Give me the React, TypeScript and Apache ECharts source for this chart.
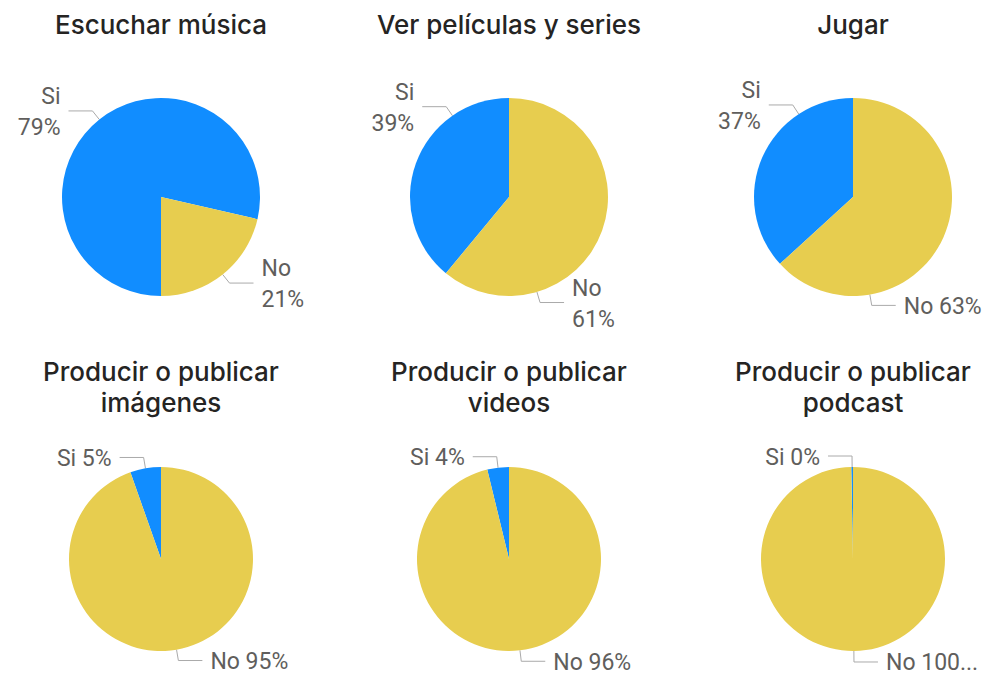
import React, { useEffect, useRef } from 'react';
import * as echarts from 'echarts';

// ---- data ----
const categories = ['Si', 'No'];
const chartTitles = [
  'Escuchar música',
  'Ver películas y series',
  'Jugar',
  'Producir o publicar\nimágenes',
  'Producir o publicar\nvideos',
  'Producir o publicar\npodcast',
];
const siValues = [78.6, 39.0, 36.8, 5.4, 3.8, 0.3];
const noValues = [21.4, 61.0, 63.2, 94.6, 96.2, 99.7];

// ---- layout / style ----
const COLORS = ['#118DFF', '#E7CD4F'];
const FONT = 'Roboto, "Noto Sans", sans-serif';
const TITLE_FONT = 'Inter, Roboto, sans-serif';
const CENTERS = [
  [161, 197], [509, 197], [853, 197],
  [161, 559], [509, 559], [853, 559],
];
const RADII = [99, 99, 99, 92, 92, 92];
const START_ANGLES = [-90, 90, 90, 90, 90, 90];
const CLOCKWISE = [true, false, false, false, false, false];
// label anchor angles (degrees clockwise from 12 o'clock) where the layout pushes labels; null = slice middle
const LABEL_ANGLE_OVERRIDE: (number[] | null)[] = [null, [325.2, 163.6], [326.8, 170.2], null, null, null];
const WRAP = [[true, true], [true, true], [true, false], [false, false], [false, false], [false, false]];
const TRUNCATE: (number | null)[] = [null, null, null, null, null, 6];
const TITLE_Y = [24, 24, 24, 387, 387, 387];
const L1 = 11;
const L2 = 24;
const GAP = 8;

function valuesOf(si: number) {
  return [siValues[si], noValues[si]];
}

function labelClockAngle(si: number, di: number) {
  const ov = LABEL_ANGLE_OVERRIDE[si];
  if (ov) return ov[di];
  const vals = valuesOf(si);
  const total = vals.reduce((a, b) => a + b, 0);
  let cum = 0;
  for (let k = 0; k < di; k++) cum += vals[k];
  const frac = (cum + vals[di] / 2) / total;
  const start = 90 - START_ANGLES[si];
  return CLOCKWISE[si] ? start + frac * 360 : start - frac * 360;
}

function labelText(si: number, di: number) {
  const vals = valuesOf(si);
  const total = vals.reduce((a, b) => a + b, 0);
  const pct = Math.round((vals[di] / total) * 100);
  let t = `${categories[di]}${WRAP[si][di] ? '\n' : ' '}${pct}%`;
  const tr = TRUNCATE[si];
  if (tr != null && t.length > tr) t = t.slice(0, tr) + '...';
  return t;
}

export default function App() {
  const ref = useRef<HTMLDivElement>(null);
  useEffect(() => {
    if (!ref.current) return;
    const chart = echarts.init(ref.current, undefined, { renderer: 'svg' });

    const title = chartTitles.map((t, i) => ({
      text: t,
      left: CENTERS[i][0],
      top: TITLE_Y[i],
      padding: 0,
      textAlign: 'center',
      textVerticalAlign: 'middle',
      textStyle: {
        fontFamily: TITLE_FONT,
        fontSize: 26,
        fontWeight: 500,
        color: '#252423',
        lineHeight: 31,
      },
    }));

    const series = chartTitles.map((_, si) => {
      const anyWrap = WRAP[si][0] || WRAP[si][1];
      return {
        type: 'pie',
        center: CENTERS[si],
        radius: RADII[si],
        startAngle: START_ANGLES[si],
        clockwise: CLOCKWISE[si],
        avoidLabelOverlap: false,
        silent: true,
        emphasis: { disabled: true },
        itemStyle: { borderWidth: 0 },
        data: categories.map((c, di) => ({
          name: c,
          value: valuesOf(si)[di],
          itemStyle: { color: COLORS[di] },
        })),
        label: {
          show: true,
          position: 'outside',
          overflow: 'none',
          fontFamily: FONT,
          fontSize: 23,
          lineHeight: anyWrap ? 31 : 24,
          color: '#605E5C',
          formatter: (p: any) => labelText(si, p.dataIndex),
        },
        labelLine: {
          show: true,
          length: L1,
          length2: L2,
          lineStyle: { color: '#AAAAAA', width: 1 },
        },
        labelLayout: (p: any) => {
          const s = p.seriesIndex;
          const di = p.dataIndex;
          const a = (labelClockAngle(s, di) * Math.PI) / 180;
          const [cx, cy] = CENTERS[s];
          const r = RADII[s];
          const sx = cx + r * Math.sin(a);
          const sy = cy - r * Math.cos(a);
          const mx = sx + L1 * Math.sin(a);
          const my = sy - L1 * Math.cos(a);
          const right = Math.sin(a) >= 0;
          const ex = mx + (right ? L2 : -L2);
          return {
            x: ex + (right ? GAP : -GAP),
            y: my + 1,
            align: right ? 'left' : 'right',
            verticalAlign: 'middle',
            labelLinePoints: [[sx, sy], [mx, my], [ex, my]],
          };
        },
      };
    });

    chart.setOption({
      animation: false,
      backgroundColor: '#FFFFFF',
      title,
      series,
    } as any);

    return () => chart.dispose();
  }, []);

  return (
    <div
      ref={ref}
      style={{ position: 'absolute', left: 0, top: 0, width: 989, height: 675 }}
    />
  );
}
